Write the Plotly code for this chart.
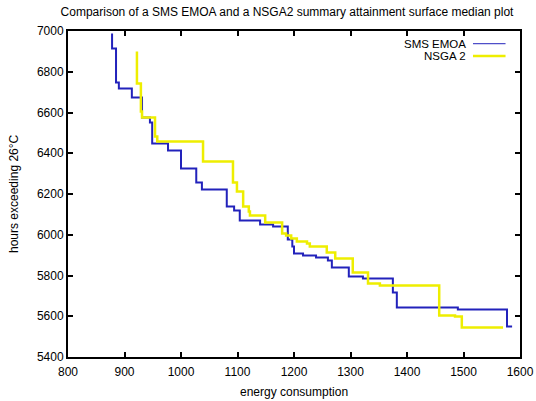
import plotly.graph_objects as go

# SMS EMOA summary attainment surface (step corners, 'vh' order)
sms_energy = [878, 885, 890, 913, 931, 945, 949, 977, 1000, 1027, 1037, 1081, 1094, 1104,
              1140, 1163, 1189, 1197, 1200, 1216, 1239, 1260, 1267, 1297, 1322, 1375, 1382,
              1490, 1577, 1586]
sms_hours = [6988, 6914, 6747, 6718, 6674, 6575, 6551, 6448, 6413, 6325, 6256, 6222, 6139, 6119,
             6070, 6050, 6040, 5977, 5942, 5908, 5898, 5888, 5874, 5839, 5795, 5785, 5717,
             5643, 5633, 5550]

# NSGA 2 summary attainment surface
nsga_energy = [922, 929, 931, 954, 958, 1039, 1092, 1099, 1110, 1120, 1122, 1149, 1179, 1186,
               1195, 1205, 1223, 1228, 1258, 1273, 1304, 1331, 1352, 1457, 1485, 1497, 1570]
nsga_hours = [6899, 6742, 6605, 6575, 6482, 6458, 6360, 6256, 6212, 6139, 6114, 6095, 6060, 6006,
              5996, 5982, 5967, 5957, 5942, 5913, 5883, 5815, 5761, 5751, 5604, 5599, 5545]

x_ticks = [800, 900, 1000, 1100, 1200, 1300, 1400, 1500, 1600]
y_ticks = [5400, 5600, 5800, 6000, 6200, 6400, 6600, 6800, 7000]

BLUE = "#2222bb"
YELLOW = "#eeee00"
FONT = "Liberation Sans, Arial, sans-serif"
FS = 12

fig = go.Figure()
fig.add_trace(go.Scatter(x=sms_energy, y=sms_hours, mode="lines", line_shape="vh",
                         line=dict(color=BLUE, width=2), name="SMS EMOA", showlegend=False))
fig.add_trace(go.Scatter(x=nsga_energy, y=nsga_hours, mode="lines", line_shape="vh",
                         line=dict(color=YELLOW, width=2.5), name="NSGA 2", showlegend=False))

axis_common = dict(showgrid=False, zeroline=False, showline=True, linecolor="black", linewidth=2,
                   mirror="ticks", ticks="inside", ticklen=5, tickwidth=2, tickcolor="black",
                   tickfont=dict(family=FONT, size=FS, color="black"), automargin=False)

fig.update_xaxes(range=[800, 1600], tickvals=x_ticks, ticktext=[str(v) for v in x_ticks],
                 ticklabelstandoff=3, **axis_common)
fig.update_yaxes(range=[5400, 7000], tickvals=y_ticks, ticktext=[str(v) for v in y_ticks],
                 **axis_common)

# axis titles
fig.add_annotation(xref="paper", yref="paper", x=0.5, y=0, yshift=-35, xanchor="center",
                   yanchor="middle", text="energy consumption", showarrow=False,
                   font=dict(family=FONT, size=FS, color="black"))
fig.add_annotation(xref="paper", yref="paper", x=0, y=0.5, xshift=-54, xanchor="center",
                   yanchor="middle", textangle=-90, text="hours exceeding 26°C", showarrow=False,
                   font=dict(family=FONT, size=FS, color="black"))

# gnuplot-style key: text left, sample right
fig.add_annotation(xref="paper", yref="paper", x=0.886, y=0.961, xanchor="right", yanchor="middle",
                   text="SMS EMOA", showarrow=False, font=dict(family=FONT, size=11.5, color="black"))
fig.add_annotation(xref="paper", yref="paper", x=0.886, y=0.923, xanchor="right", yanchor="middle",
                   text="NSGA 2", showarrow=False, font=dict(family=FONT, size=11.5, color="black"))
fig.add_shape(type="line", xref="paper", yref="paper", x0=0.896, x1=0.968, y0=0.961, y1=0.961,
              line=dict(color=BLUE, width=1))
fig.add_shape(type="line", xref="paper", yref="paper", x0=0.896, x1=0.968, y0=0.923, y1=0.923,
              line=dict(color=YELLOW, width=2.5))

fig.update_layout(
    width=536, height=401,
    margin=dict(l=68, r=16, t=31, b=44),
    paper_bgcolor="white", plot_bgcolor="white",
    title=dict(text="Comparison of a SMS EMOA and a NSGA2 summary attainment surface median plot",
               x=287 / 536, xanchor="center", y=1 - 12 / 401, yanchor="middle",
               font=dict(family=FONT, size=FS, color="black")),
)

fig.write_html("out.html")
